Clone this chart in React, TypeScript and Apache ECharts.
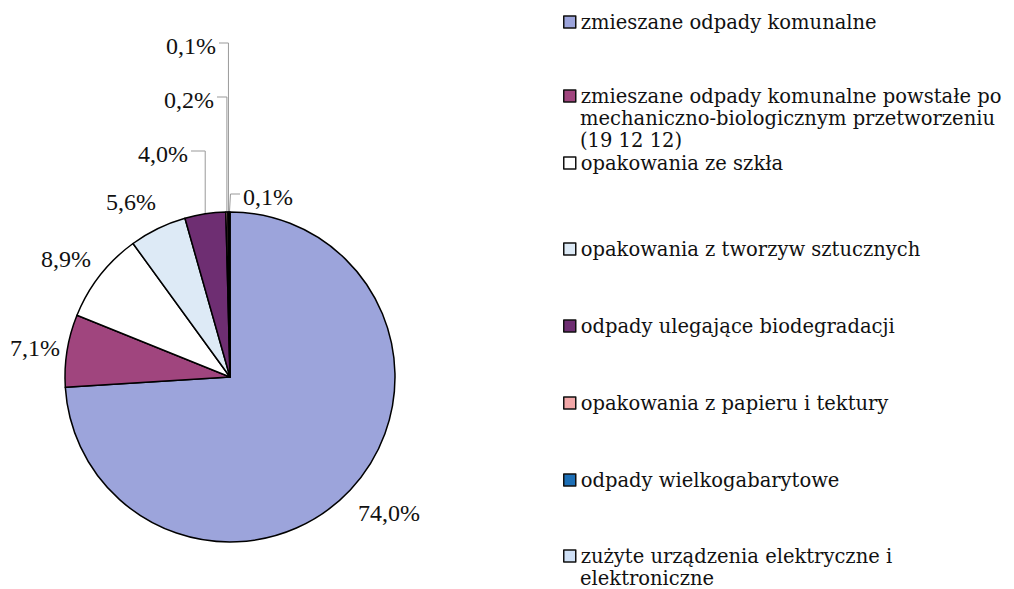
import React, { useEffect, useRef } from "react";
import * as echarts from "echarts";

const categories = [
  "zmieszane odpady komunalne",
  "zmieszane odpady komunalne powstałe po mechaniczno-biologicznym przetworzeniu (19 12 12)",
  "opakowania ze szkła",
  "opakowania z tworzyw sztucznych",
  "odpady ulegające biodegradacji",
  "opakowania z papieru i tektury",
  "odpady wielkogabarytowe",
  "zużyte urządzenia elektryczne i elektroniczne",
];
const values = [74.0, 7.1, 8.9, 5.6, 4.0, 0.2, 0.1, 0.1];
const legendLines: string[][] = [
  ["zmieszane odpady komunalne"],
  ["zmieszane odpady komunalne powstałe po", "mechaniczno-biologicznym przetworzeniu", "(19 12 12)"],
  ["opakowania ze szkła"],
  ["opakowania z tworzyw sztucznych"],
  ["odpady ulegające biodegradacji"],
  ["opakowania z papieru i tektury"],
  ["odpady wielkogabarytowe"],
  ["zużyte urządzenia elektryczne i", "elektroniczne"],
];

const colors = ["#9CA4DB", "#A0457E", "#FFFFFF", "#DDEAF6", "#6E2E72", "#F2A7A8", "#1D6FB6", "#CFE0F6"];
const legendFirstLineY = [22, 96, 163, 249, 326, 403, 480, 556];
const labelPos: [number, number][] = [
  [389, 513],
  [35, 348],
  [66, 259],
  [131, 202],
  [163, 154],
  [189, 100],
  [191, 46],
  [268, 197],
];
const leaderIdx = [4, 5, 6, 7];

const LEGEND_FONT = "DejaVu Serif";
const LEGEND_SIZE = 19.5;
const LABEL_FONT = "Liberation Serif";
const LINE_H = 22;
const LEGEND_LEFT = 563;
const ICON = 12;
const TEXT_GAP = 5;

export default function App() {
  const ref = useRef<HTMLDivElement>(null);
  useEffect(() => {
    if (!ref.current) return;
    const chart = echarts.init(ref.current, undefined, { renderer: "svg" });
    const legends = categories.map((name, i) => ({
      left: LEGEND_LEFT,
      top: legendFirstLineY[i] - LINE_H / 2,
      orient: "vertical",
      data: [name],
      icon: "rect",
      itemWidth: ICON,
      itemHeight: ICON,
      itemGap: 0,
      padding: 0,
      selectedMode: false,
      itemStyle: { borderColor: "#111", borderWidth: 1.5 },
      formatter: () => legendLines[i][0],
      textStyle: {
        fontFamily: LEGEND_FONT,
        fontSize: LEGEND_SIZE,
        lineHeight: LINE_H,
        color: "#111",
      },
    }));
    const extraLines: any[] = [];
    legendLines.forEach((lines, i) => {
      lines.slice(1).forEach((t, k) => {
        extraLines.push({
          type: "text",
          left: LEGEND_LEFT + ICON + TEXT_GAP,
          top: legendFirstLineY[i] + (k + 1) * LINE_H - LINE_H / 2,
          style: {
            text: t,
            fontFamily: LEGEND_FONT,
            fontSize: LEGEND_SIZE,
            lineHeight: LINE_H,
            fill: "#111",
          },
        });
      });
    });
    chart.setOption({
      animation: false,
      backgroundColor: "#fff",
      color: colors,
      legend: legends,
      graphic: extraLines,
      series: [
        {
          type: "pie",
          center: [230, 377],
          radius: 165,
          startAngle: 90,
          clockwise: true,
          avoidLabelOverlap: false,
          data: categories.map((name, i) => ({ name, value: values[i] })),
          itemStyle: { borderColor: "#000", borderWidth: 1.5 },
          label: {
            show: true,
            position: "outside",
            formatter: (p: any) => p.value.toFixed(1).replace(".", ",") + "%",
            fontFamily: LABEL_FONT,
            fontSize: 24,
            color: "#111",
          },
          labelLine: {
            show: true,
            length: 0,
            length2: 0,
            lineStyle: { color: "#999", width: 1 },
          },
          labelLayout: (params: any) => {
            const i = params.dataIndex;
            const [x, y] = labelPos[i];
            const out: any = { x, y, align: "center", verticalAlign: "middle" };
            if (leaderIdx.includes(i) && params.labelLinePoints) {
              const p0 = params.labelLinePoints[0];
              const w = params.labelRect.width;
              const ly = y - 3;
              if (i === 7) {
                const lx = x - w / 2 - 3;
                out.labelLinePoints = [p0, [p0[0] + 1, ly], [lx, ly]];
              } else {
                const lx = x + w / 2 + 3;
                out.labelLinePoints = [p0, [p0[0], ly], [lx, ly]];
              }
            } else {
              out.labelLinePoints = [[0, 0], [0, 0], [0, 0]];
            }
            return out;
          },
          emphasis: { disabled: true },
        },
      ],
    });
    return () => chart.dispose();
  }, []);
  return (
    <div
      ref={ref}
      style={{ position: "fixed", left: 0, top: 0, width: 1014, height: 589 }}
    />
  );
}
